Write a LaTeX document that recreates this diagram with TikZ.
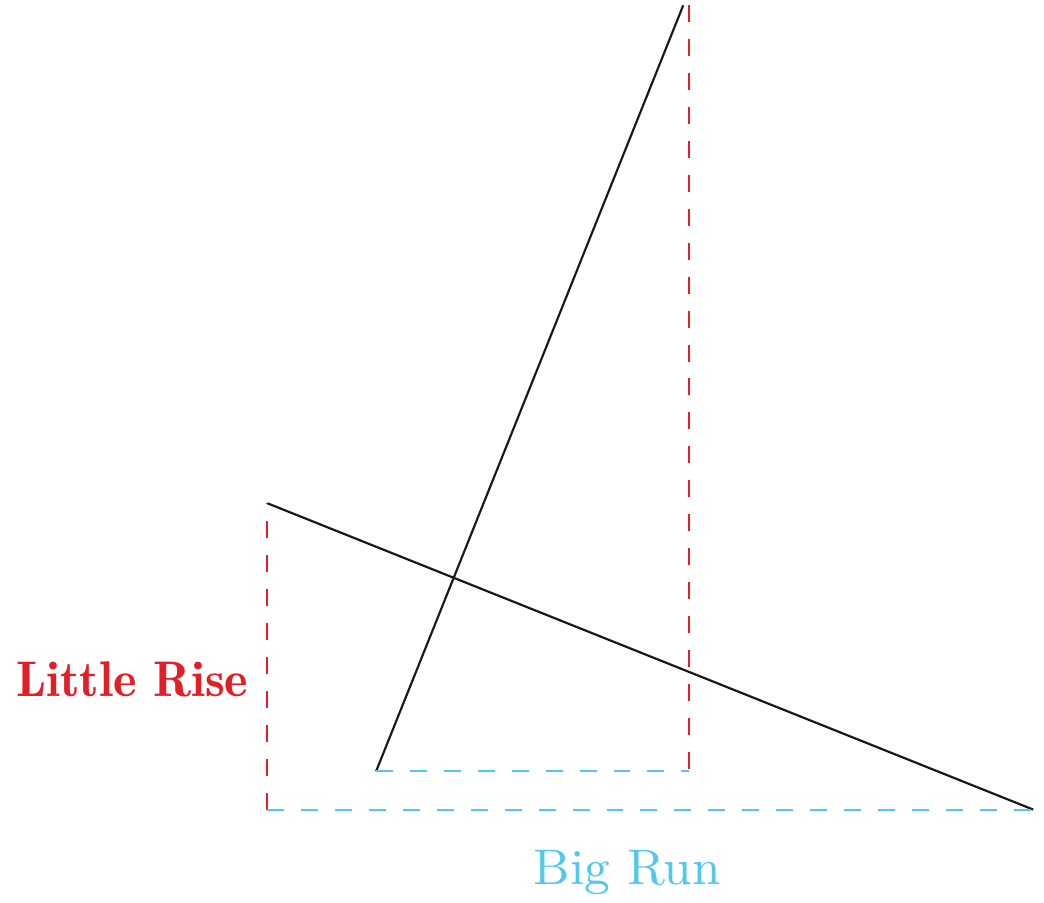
\documentclass[tikz,border=0pt]{standalone}
\usepackage{xcolor}
\usepackage{tikz}
\usetikzlibrary{positioning,calc}

\definecolor{riseRed}{RGB}{226,30,38}
\definecolor{runBlue}{RGB}{82,200,236}

\begin{document}
\begin{tikzpicture}[
    scale=0.5,
    font=\fontsize{9.3pt}{11pt}\selectfont,
    slopeline/.style={draw=black!90, line width=0.4pt},
    riseline/.style={draw=riseRed, dash pattern=on 3.15pt off 3.15pt, line width=0.4pt},
    runline/.style={draw=runBlue, dash pattern=on 3.15pt off 3.15pt, line width=0.4pt},
    riselabel/.style={text=riseRed, font=\fontsize{9.3pt}{11pt}\fontseries{b}\selectfont},
    runlabel/.style={text=runBlue}
]
\useasboundingbox (-3.49,-1.21) rectangle (10.14,10.57);

% shallow line
\coordinate (shallowA) at (0,4);
\coordinate (shallowB) at (10,0);
\coordinate (corner) at (0,0);

% steep line
\coordinate (steepA) at (1.42,0.5);
\coordinate (steepB) at (5.43,10.5);
\coordinate (riseTop) at (5.5,10.5);
\coordinate (riseBot) at (5.5,0.5);

\draw[slopeline] (shallowA) -- (shallowB);
\draw[slopeline] (steepA) -- (steepB);

\draw[riseline] (corner) -- (shallowA);
\draw[runline] (corner) -- (shallowB);
\draw[riseline] (riseTop) -- (riseBot);
\draw[runline] (steepA) -- (riseBot);

% labels
\node[riselabel, left] (rise) at (0,1.7) {Little Rise};
\node[runlabel] (run) at (4.7,-0.82) {Big Run};

\end{tikzpicture}
\end{document}
